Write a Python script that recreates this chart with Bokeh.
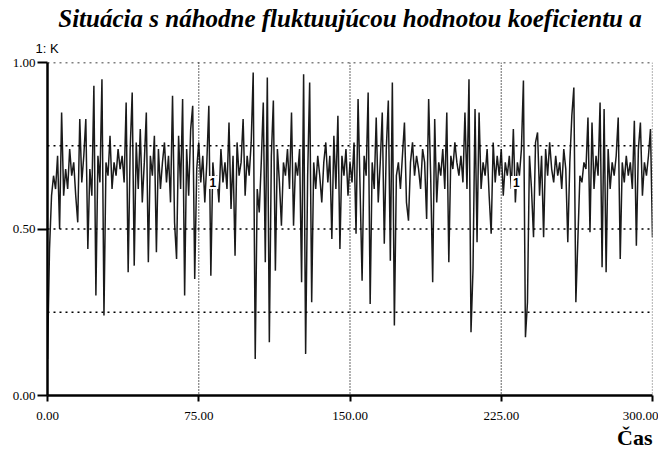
from bokeh.plotting import figure
from bokeh.models import Range1d, FixedTicker, PrintfTickFormatter, Label, Span, Title
from bokeh.embed import file_html
from bokeh.resources import INLINE

# ---- data ----
title_text = "Situácia s náhodne fluktuujúcou hodnotou koeficientu a"
series_name = "1: K"
x_label = "Čas"
x_ticks = [0, 75, 150, 225, 300]
y_ticks = [0.0, 0.5, 1.0]
y_grid = [0.25, 0.5, 0.75, 1.0]
x_grid = [75, 150, 225, 300]

K = [
    0.11, 0.44, 0.60, 0.66, 0.62, 0.72, 0.50, 0.85, 0.60, 0.68,
    0.62, 0.74, 0.66, 0.70, 0.60, 0.52, 0.83, 0.64, 0.72, 0.83,
    0.44, 0.68, 0.60, 0.93, 0.30, 0.72, 0.64, 0.95, 0.24, 0.70,
    0.66, 0.78, 0.62, 0.70, 0.66, 0.74, 0.68, 0.72, 0.64, 0.88,
    0.37, 0.74, 0.91, 0.39, 0.76, 0.62, 0.80, 0.58, 0.70, 0.85,
    0.40, 0.72, 0.66, 0.78, 0.43, 0.74, 0.62, 0.70, 0.76, 0.64,
    0.72, 0.58, 0.90, 0.52, 0.41, 0.78, 0.62, 0.89, 0.30, 0.74,
    0.60, 0.80, 0.87, 0.35, 0.68, 0.76, 0.64, 0.72, 0.58, 0.70,
    0.87, 0.36, 0.70, 0.62, 0.66, 0.58, 0.74, 0.64, 0.70, 0.62,
    0.82, 0.56, 0.72, 0.42, 0.76, 0.66, 0.70, 0.83, 0.60, 0.72,
    0.66, 0.76, 0.97, 0.11, 0.62, 0.55, 0.70, 0.88, 0.40, 0.955,
    0.16, 0.72, 0.886, 0.375, 0.74, 0.64, 0.51, 0.70, 0.66, 0.74,
    0.62, 0.85, 0.51, 0.70, 0.66, 0.74, 0.34, 0.965, 0.125, 0.66,
    0.94, 0.28, 0.70, 0.62, 0.72, 0.66, 0.58, 0.70, 0.76, 0.64,
    0.72, 0.47, 0.78, 0.62, 0.84, 0.44, 0.72, 0.66, 0.74, 0.60,
    0.70, 0.64, 0.76, 0.486, 0.89, 0.62, 0.345, 0.72, 0.66, 0.91,
    0.275, 0.70, 0.62, 0.835, 0.58, 0.70, 0.85, 0.456, 0.74, 0.886,
    0.405, 0.94, 0.21, 0.66, 0.70, 0.62, 0.72, 0.82, 0.58, 0.525,
    0.70, 0.76, 0.66, 0.72, 0.68, 0.62, 0.74, 0.70, 0.53, 0.89,
    0.66, 0.34, 0.83, 0.58, 0.70, 0.66, 0.74, 0.62, 0.85, 0.40,
    0.72, 0.68, 0.76, 0.70, 0.66, 0.72, 0.64, 0.85, 0.62, 0.95,
    0.19, 0.38, 0.86, 0.46, 0.85, 0.62, 0.70, 0.66, 0.74, 0.60,
    0.486, 0.76, 0.64, 0.72, 0.66, 0.74, 0.60, 0.70, 0.66, 0.72,
    0.62, 0.80, 0.58, 0.70, 0.66, 0.74, 0.946, 0.175, 0.28, 0.72,
    0.62, 0.475, 0.76, 0.79, 0.60, 0.72, 0.475, 0.74, 0.66, 0.76,
    0.68, 0.64, 0.72, 0.66, 0.70, 0.62, 0.74, 0.68, 0.46, 0.70,
    0.84, 0.925, 0.28, 0.47, 0.66, 0.64, 0.70, 0.68, 0.835, 0.49,
    0.82, 0.62, 0.72, 0.66, 0.88, 0.385, 0.86, 0.37, 0.74, 0.62,
    0.70, 0.66, 0.72, 0.835, 0.41, 0.70, 0.64, 0.72, 0.66, 0.70,
    0.62, 0.825, 0.45, 0.74, 0.82, 0.60, 0.70, 0.66, 0.72, 0.80,
    0.475,
]
t = list(range(len(K)))

# curve-number marker positions ("1")
marker_t = [82, 232.5]
marker_v = [0.64, 0.64]

p = figure(width=658, height=450, x_range=Range1d(0, 300), y_range=Range1d(0, 1),
           output_backend="svg", toolbar_location=None,
           min_border_left=47, min_border_right=6, min_border_top=62, min_border_bottom=55,
           background_fill_color="white", border_fill_color="white")
p.outline_line_color = None
p.xgrid.visible = False
p.ygrid.visible = False

# main title (outermost)
p.title.text = title_text
p.title.text_font = "Liberation Serif"
p.title.text_font_style = "bold italic"
p.title.text_font_size = "25px"
p.title.align = "center"
p.title.offset = 6
p.title.standoff = 0
p.title.text_color = "black"

p.add_layout(Title(text=series_name, align="left", offset=-12, standoff=14,
                   text_font="Liberation Sans", text_font_style="normal",
                   text_font_size="13px", text_color="black"), "above")

p.add_layout(Title(text=x_label, align="right", offset=0, standoff=0,
                   text_font="Liberation Serif", text_font_style="bold",
                   text_font_size="22px", text_color="black"), "below")

for yy in y_grid:
    p.add_layout(Span(location=yy, dimension="width", line_color="black",
                      line_width=1.5, line_dash="2 4"))
for xx in x_grid:
    p.add_layout(Span(location=xx, dimension="height", line_color="black",
                      line_width=1.2, line_dash="1 2"))

p.line(t, K, line_color="#1a1a1a", line_width=1.5)

for mt, mv in zip(marker_t, marker_v):
    p.add_layout(Label(x=mt, y=mv, text="1", text_font_size="12px", text_font="Liberation Sans",
                       text_align="center", text_baseline="middle", background_fill_color="white",
                       padding=2, text_color="black", text_font_style="bold"))

font_ticks = "Liberation Sans Narrow"
ax = p.xaxis[0]
ax.ticker = FixedTicker(ticks=x_ticks)
ax.formatter = PrintfTickFormatter(format="%.2f")
ax.axis_line_width = 2.5
ax.axis_line_color = "black"
ax.major_tick_out = 6
ax.major_tick_in = 0
ax.major_tick_line_width = 2
ax.minor_tick_line_color = None
ax.major_label_text_font = font_ticks
ax.major_label_text_font_size = "13px"
ax.major_label_text_color = "black"
ax.major_label_standoff = 10

ay = p.yaxis[0]
ay.ticker = FixedTicker(ticks=y_ticks)
ay.formatter = PrintfTickFormatter(format="%.2f")
ay.axis_line_width = 2.5
ay.axis_line_color = "black"
ay.major_tick_out = 10
ay.major_tick_in = 0
ay.major_tick_line_width = 2
ay.minor_tick_line_color = None
ay.major_label_text_font = font_ticks
ay.major_label_text_font_size = "13px"
ay.major_label_text_color = "black"
ay.major_label_standoff = 2

open("out.html", "w").write(file_html(p, INLINE))
